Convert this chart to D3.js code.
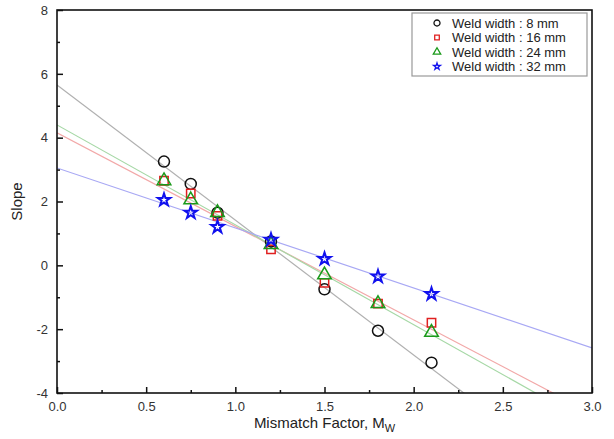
<!DOCTYPE html>
<html>
<head>
<meta charset="utf-8">
<script src="https://cdn.jsdelivr.net/npm/d3@7"></script>
<style>
  body { margin: 0; background: #fff; }
  svg { font-family: "Liberation Sans", Arial, sans-serif; }
</style>
</head>
<body>
<svg id="chart"></svg>
<script>
const width = 614;
const height = 439;
const margin = { top: 10, right: 22, bottom: 46, left: 57 };

// data
const mismatch = [0.6, 0.75, 0.9, 1.2, 1.5, 1.8, 2.1];
const seriesNames = ['Weld width : 8 mm', 'Weld width : 16 mm', 'Weld width : 24 mm', 'Weld width : 32 mm'];
const slope8 = [3.25, 2.55, 1.65, 0.75, -0.75, -2.05, -3.05];
const slope16 = [2.65, 2.25, 1.55, 0.5, -0.55, -1.2, -1.8];
const slope24 = [2.65, 2.05, 1.65, 0.65, -0.3, -1.2, -2.1];
const slope32 = [2.05, 1.65, 1.2, 0.8, 0.2, -0.35, -0.9];
// fitted lines (intercept at Mw = 0, slope)
const fitIntercepts = [5.65, 4.15, 4.4, 3.05];
const fitSlopes = [-4.23, -2.93, -3.13, -1.88];

const xTicks = [0, 0.5, 1.0, 1.5, 2.0, 2.5, 3.0];
const yTicks = [-4, -2, 0, 2, 4, 6, 8];

const markerColors = ['#111', '#e02020', '#1a9a1a', '#1010ee'];
const lineColors = ['#b0b0b0', '#f2a8a8', '#a6d8a6', '#a8a8f4'];
const symbols = [d3.symbolCircle, d3.symbolSquare, d3.symbolTriangle, d3.symbolStar];
const symSizes = [95, 70, 80, 48];

const allSeries = [slope8, slope16, slope24, slope32];

const svg = d3.select('#chart').attr('width', width).attr('height', height);

const x = d3.scaleLinear().domain([0, 3]).range([margin.left, width - margin.right]);
const y = d3.scaleLinear().domain([-4, 8]).range([height - margin.bottom, margin.top]);

svg.append('clipPath').attr('id', 'clip')
  .append('rect')
  .attr('x', x(0)).attr('y', y(8))
  .attr('width', x(3) - x(0)).attr('height', y(-4) - y(8));

// fit lines
const plot = svg.append('g').attr('clip-path', 'url(#clip)');
fitIntercepts.forEach((b, i) => {
  plot.append('line')
    .attr('x1', x(0)).attr('y1', y(b))
    .attr('x2', x(3)).attr('y2', y(b + fitSlopes[i] * 3))
    .attr('stroke', lineColors[i])
    .attr('stroke-width', 1.2);
});

// markers
allSeries.forEach((vals, i) => {
  plot.selectAll('.m' + i)
    .data(vals)
    .enter()
    .append('path')
    .attr('class', 'm' + i)
    .attr('d', d3.symbol().type(symbols[i]).size(symSizes[i]))
    .attr('transform', (d, j) => 'translate(' + x(mismatch[j]) + ',' + y(d) + ')')
    .attr('fill', 'none')
    .attr('stroke', markerColors[i])
    .attr('stroke-width', i === 3 ? 2 : 1.5);
});

// axes with inward ticks
const xAxis = d3.axisBottom(x).tickValues(xTicks).tickSize(-6).tickPadding(9).tickFormat(d3.format('.1f'));
const xMinor = d3.axisBottom(x).tickValues(d3.range(0.25, 3, 0.5)).tickSize(-3).tickFormat('');
const yAxis = d3.axisLeft(y).tickValues(yTicks).tickSize(-6).tickPadding(9).tickFormat(d => String(d));
const yMinor = d3.axisLeft(y).tickValues(d3.range(-3, 8, 2)).tickSize(-3).tickFormat('');

function styleAxis(g) {
  g.select('.domain').remove();
  g.selectAll('line').attr('stroke', '#111').attr('stroke-width', 1.5);
  g.selectAll('text').attr('fill', '#333').style('font-size', '13px');
}

svg.append('g').attr('transform', 'translate(0,' + y(-4) + ')').call(xAxis).call(styleAxis);
svg.append('g').attr('transform', 'translate(0,' + y(-4) + ')').call(xMinor).call(styleAxis);
svg.append('g').attr('transform', 'translate(' + x(0) + ',0)').call(yAxis).call(styleAxis);
svg.append('g').attr('transform', 'translate(' + x(0) + ',0)').call(yMinor).call(styleAxis);

// frame
svg.append('rect')
  .attr('x', x(0)).attr('y', y(8))
  .attr('width', x(3) - x(0)).attr('height', y(-4) - y(8))
  .attr('fill', 'none').attr('stroke', '#111').attr('stroke-width', 1.6);

// axis titles
const xt = svg.append('text')
  .attr('x', (x(0) + x(3)) / 2)
  .attr('y', height - 11)
  .attr('text-anchor', 'middle')
  .attr('fill', '#222')
  .style('font-size', '15px');
xt.append('tspan').text('Mismatch Factor, M');
xt.append('tspan').attr('dy', 4).style('font-size', '11px').text('W');

svg.append('text')
  .attr('transform', 'rotate(-90)')
  .attr('x', -(y(8) + y(-4)) / 2)
  .attr('y', 22)
  .attr('text-anchor', 'middle')
  .attr('fill', '#222')
  .style('font-size', '15px')
  .text('Slope');

// legend
const lg = svg.append('g').attr('transform', 'translate(412,13)');
lg.append('rect')
  .attr('width', 175).attr('height', 63)
  .attr('fill', '#fff').attr('stroke', '#999').attr('stroke-width', 1.2);
seriesNames.forEach((name, i) => {
  const row = lg.append('g').attr('transform', 'translate(0,' + (10 + i * 14.5) + ')');
  row.append('path')
    .attr('d', d3.symbol().type(symbols[i]).size(i === 3 ? 14 : symSizes[i] * 0.3))
    .attr('transform', 'translate(25,0)')
    .attr('fill', 'none')
    .attr('stroke', markerColors[i])
    .attr('stroke-width', 1.3);
  row.append('text')
    .attr('x', 40).attr('y', 4.5)
    .attr('fill', '#222')
    .style('font-size', '13px')
    .text(name);
});
</script>
</body>
</html>
